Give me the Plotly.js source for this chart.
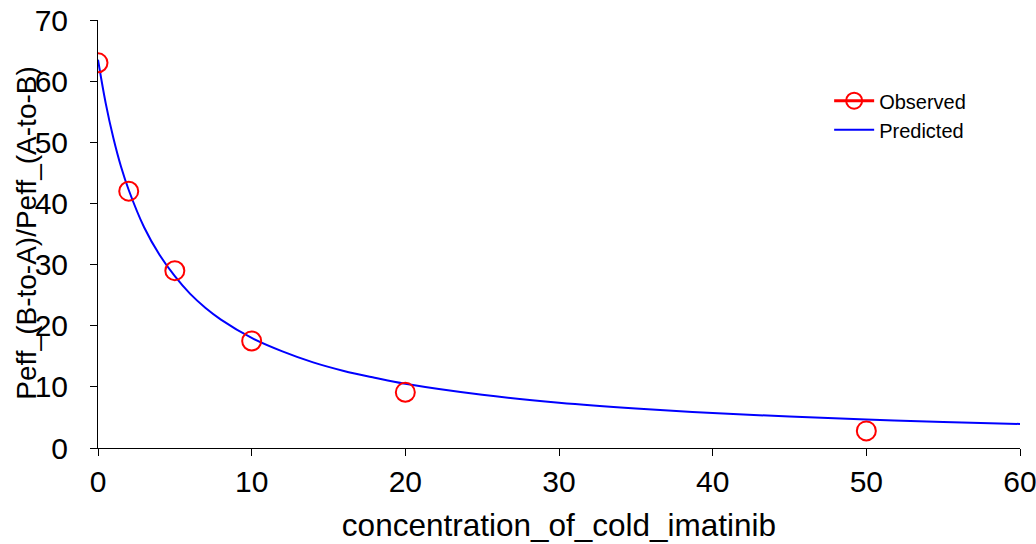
<!DOCTYPE html>
<html>
<head>
<meta charset="utf-8">
<script src="https://cdn.plot.ly/plotly-3.0.1.min.js"></script>
<style>html,body{margin:0;padding:0;background:#fff;}#chart{width:1036px;height:544px;}</style>
</head>
<body>
<div id="chart"></div>
<script>
// Observed data
const obsX = [0, 2, 5, 10, 20, 50];
const obsY = [63.0, 42.0, 29.0, 17.5, 9.1, 2.8];
// Predicted curve
const predX = [0, 0.5, 1, 1.5, 2, 3, 4, 5, 6, 7, 8, 10, 12, 14, 16, 18, 20, 25, 30, 35, 40, 45, 50, 55, 60];
const predY = [63.5, 56.4, 50.7, 46.0, 42.2, 36.1, 31.6, 28.1, 25.2, 22.9, 21.0, 18.0, 15.8, 14.0, 12.6, 11.5, 10.5, 8.7, 7.4, 6.45, 5.72, 5.14, 4.66, 4.26, 3.93];
const xTicks = [0, 10, 20, 30, 40, 50, 60];
const yTicks = [0, 10, 20, 30, 40, 50, 60, 70];
const xTitle = 'concentration_of_cold_imatinib';
const yTitle = 'Peff_(B-to-A)/Peff_(A-to-B)';

const font = 'Liberation Sans, Arial, sans-serif';

const traces = [
  {
    x: predX, y: predY, name: 'Predicted', mode: 'lines',
    line: {color: '#0000ff', width: 2, shape: 'spline'},
    showlegend: true, legendrank: 2
  },
  {
    x: obsX, y: obsY, name: 'Observed', mode: 'markers',
    marker: {symbol: 'circle-open', size: 19, color: '#ff0000', line: {width: 2, color: '#ff0000'}},
    showlegend: false
  },
  {
    x: [null], y: [null], name: 'Observed', mode: 'lines+markers',
    line: {color: '#ff0000', width: 3},
    marker: {symbol: 'circle-open', size: 19, color: '#ff0000', line: {width: 2, color: '#ff0000'}},
    showlegend: true, legendrank: 1
  }
];

const layout = {
  width: 1036, height: 544,
  margin: {l: 98, r: 16, t: 20, b: 96},
  paper_bgcolor: '#fff', plot_bgcolor: '#fff',
  font: {family: font, color: '#000'},
  showlegend: true,
  legend: {x: 0.793, y: 0.857, xanchor: 'left', yanchor: 'top', bgcolor: 'rgba(0,0,0,0)',
           font: {size: 20, family: font}, tracegroupgap: 0, itemwidth: 40},
  xaxis: {
    range: [0, 60], tickvals: xTicks, ticktext: xTicks.map(String),
    showline: true, linecolor: '#000', linewidth: 1, mirror: false,
    ticks: 'outside', ticklen: 7, tickcolor: '#000', tickwidth: 1,
    ticklabelstandoff: 0, ticklabeloverflow: 'allow',
    showgrid: false, zeroline: false,
    tickfont: {size: 30, family: font},
    title: {text: xTitle, font: {size: 31.5, family: font}, standoff: 16}
  },
  yaxis: {
    range: [0, 70], tickvals: yTicks, ticktext: yTicks.map(String),
    showline: true, linecolor: '#000', linewidth: 1,
    ticks: 'outside', ticklen: 7, tickcolor: '#000', tickwidth: 1,
    ticklabelstandoff: 16, ticklabeloverflow: 'allow',
    showgrid: false, zeroline: false,
    tickfont: {size: 30, family: font}
  },
  annotations: [{
    text: yTitle, textangle: -90, showarrow: false,
    xref: 'paper', yref: 'paper', x: -0.0776, y: 0.504,
    xanchor: 'center', yanchor: 'middle',
    font: {size: 28, family: font, color: '#000'}
  }]
};

Plotly.newPlot('chart', traces, layout, {displayModeBar: false, staticPlot: true});
</script>
</body>
</html>
